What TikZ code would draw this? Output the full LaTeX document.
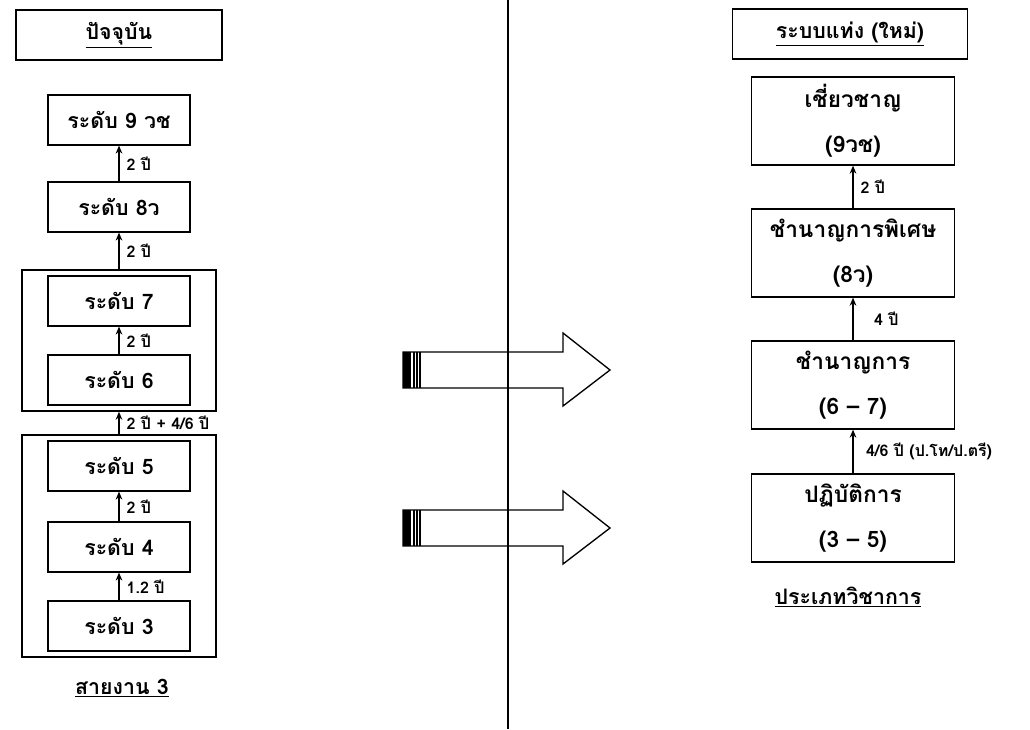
\documentclass[tikz,border=0pt]{standalone}
\usepackage{fontspec}
\newfontfamily\thaifont[Script=Thai]{Loma}
\usetikzlibrary{fit,arrows.meta}

\begin{document}
\begin{tikzpicture}[x=0.75pt,y=-0.75pt,
  every node/.style={font=\thaifont\bfseries\fontsize{16}{34}\selectfont},
  headbox/.style={draw,line width=1.2pt,minimum height=37.5pt,inner sep=0pt},
  lvlbox/.style={draw,line width=0.9pt,minimum width=106.5pt,minimum height=37.5pt,inner sep=0pt},
  grpbox/.style={draw,line width=1pt,minimum width=152pt,minimum height=66pt,align=center,inner sep=0pt,
    font=\thaifont\bfseries\fontsize{17}{34}\selectfont},
  frame/.style={draw,line width=1.2pt,inner ysep=4pt,inner xsep=19pt},
  up/.style={-{Stealth[length=6pt,width=5pt]},line width=0.9pt},
  yrs/.style={right,xshift=2pt,font=\thaifont\bfseries\fontsize{12}{14}\selectfont},
  bigarrow/.style={line width=1pt,line join=miter}]
\useasboundingbox (0,0) rectangle (1030,729);

% divider
\draw[line width=1pt] (508,0) -- (508,729);

% present
\node[headbox,minimum width=154.5pt] (nowhead) at (119,35) {\underline{ปัจจุบัน}};
\node[lvlbox] (lv9) at (119,120) {ระดับ 9 วช};
\node[lvlbox] (lv8) at (119,207) {ระดับ 8ว};
\node[lvlbox] (lv7) at (119,301) {ระดับ 7};
\node[lvlbox] (lv6) at (119,380) {ระดับ 6};
\node[lvlbox] (lv5) at (119,466) {ระดับ 5};
\node[lvlbox] (lv4) at (119,547) {ระดับ 4};
\node[lvlbox] (lv3) at (119,626) {ระดับ 3};
\node[frame,fit=(lv7)(lv6)] (upgrp) {};
\node[frame,fit=(lv5)(lv3)] (lowgrp) {};
\node (nowline) at (122,688) {\underline{สายงาน 3}};

\draw[up] (lv8) -- node[yrs] {2 ปี} (lv9);
\draw[up] (upgrp) -- node[yrs] {2 ปี} (lv8);
\draw[up] (lv6) -- node[yrs] {2 ปี} (lv7);
\draw[up] (lowgrp) -- node[yrs] {2 ปี + 4/6 ปี} (upgrp);
\draw[up] (lv4) -- node[yrs] {2 ปี} (lv5);
\draw[up] (lv3) -- node[yrs] {1.2 ปี} (lv4);

% moves
\foreach \y in {370,528} {
  \draw[bigarrow] (403,\y-18) -- (563,\y-18) -- (563,\y-37) -- (610,\y)
    -- (563,\y+36) -- (563,\y+18) -- (403,\y+18) -- cycle;
  \fill (403,\y-18) rectangle (411,\y+18);
  \foreach \x in {414,417,420}
    \draw[line width=0.8pt] (\x,\y-18) -- (\x,\y+18);
}

% new
\node[headbox,minimum width=176pt] (newhead) at (850,34) {\underline{ระบบแท่ง (ใหม่)}};
\node[grpbox] (expert) at (853,121) {เชี่ยวชาญ\\(9วช)};
\node[grpbox] (senior) at (853,253) {ชำนาญการพิเศษ\\(8ว)};
\node[grpbox] (skilled) at (853,385) {ชำนาญการ\\(6 – 7)};
\node[grpbox] (practice) at (853,518) {ปฏิบัติการ\\(3 – 5)};
\node (newline) at (848,597) {\underline{ประเภทวิชาการ}};

\draw[up] (senior) -- node[yrs] {2 ปี} (expert);
\draw[up] (skilled) -- node[yrs,xshift=10pt] {4 ปี} (senior);
\draw[up] (practice) -- node[yrs,xshift=4pt] {4/6 ปี (ป.โท/ป.ตรี)} (skilled);
\end{tikzpicture}
\end{document}
